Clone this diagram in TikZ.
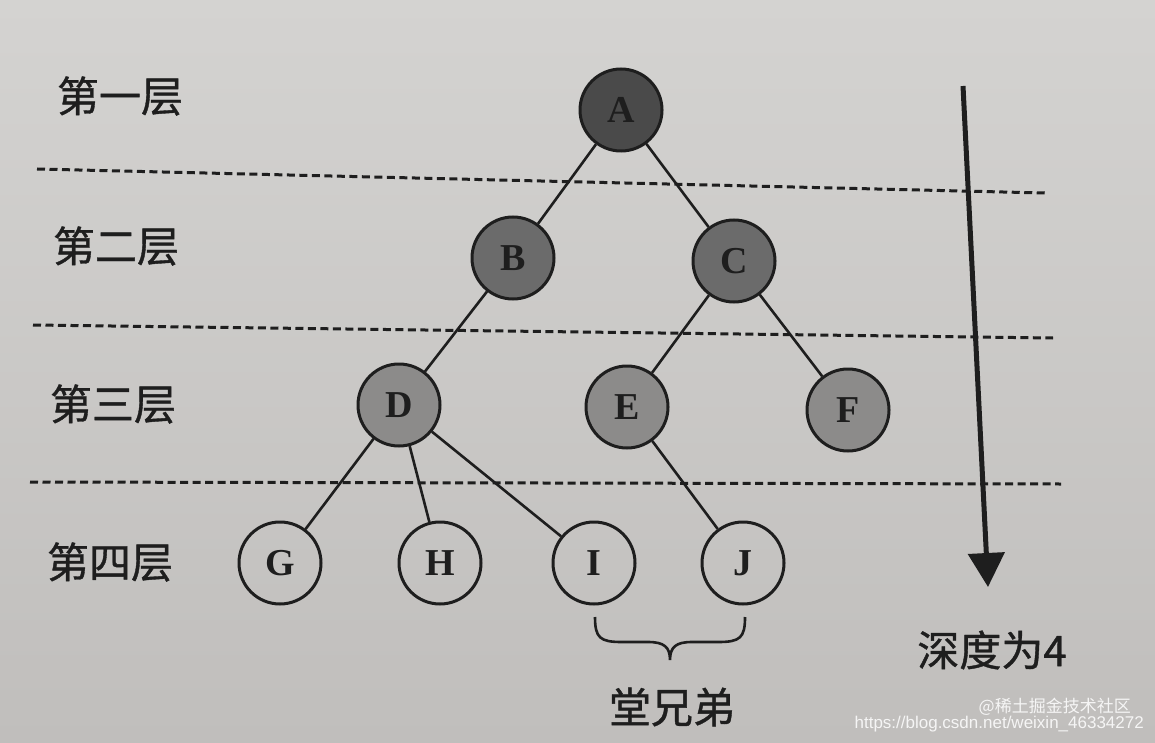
\documentclass[tikz,border=0pt]{standalone}
\usepackage{fontspec}
\setmainfont{Liberation Serif}
\newfontfamily\cjk[FakeBold=0.9]{Noto Sans CJK SC}
\newfontfamily\cjkwm{Noto Sans CJK SC}
\usetikzlibrary{arrows.meta}
\definecolor{ink}{HTML}{1E1E1E}
\definecolor{paperT}{HTML}{D4D3D1}
\definecolor{paperB}{HTML}{C0BEBC}
\definecolor{lvA}{HTML}{4A4A4A}
\definecolor{lvB}{HTML}{6B6B6B}
\definecolor{lvC}{HTML}{8C8B8A}
\tikzset{
  tnode/.style={circle, draw=ink, line width=3pt, minimum size=82pt, inner sep=0pt,
    font=\bfseries\fontsize{38}{38}\selectfont, text=ink},
  lvlA/.style={tnode, fill=lvA},
  lvlB/.style={tnode, fill=lvB},
  lvlC/.style={tnode, fill=lvC},
  leaf/.style={tnode, fill=none},
  edge/.style={draw=ink, line width=2.6pt},
  sep/.style={draw=ink, line width=3pt, dash pattern=on 8pt off 4.5pt},
  lbl/.style={font=\cjk\fontsize{42}{42}\selectfont, text=ink, inner sep=0pt},
  wm/.style={font=\cjkwm\fontsize{17}{17}\selectfont, text=white, text opacity=0.85, inner sep=0pt}
}
\begin{document}
\begin{tikzpicture}[x=1pt,y=-1pt]
\useasboundingbox (0,0) rectangle (1155,743);
\shade[top color=paperT, bottom color=paperB] (0,0) rectangle (1155,743);

% separator lines
\coordinate (s1a) at (37,169);  \coordinate (s1b) at (1045,193);
\coordinate (s2a) at (33,325);  \coordinate (s2b) at (1053,338);
\coordinate (s3a) at (30,482);  \coordinate (s3b) at (1061,484);
\draw[sep] (s1a) -- (s1b);
\draw[sep] (s2a) -- (s2b);
\draw[sep] (s3a) -- (s3b);

% level labels
\node[lbl] (l1) at (120,96) {第一层};
\node[lbl] (l2) at (116,246) {第二层};
\node[lbl] (l3) at (113,404) {第三层};
\node[lbl] (l4) at (110,562) {第四层};

% tree nodes
\node[lvlA] (A) at (621,110) {A};
\node[lvlB] (B) at (513,258) {B};
\node[lvlB] (C) at (734,261) {C};
\node[lvlC] (D) at (399,405) {D};
\node[lvlC] (E) at (627,407) {E};
\node[lvlC] (F) at (848,410) {F};
\node[leaf] (G) at (280,563) {G};
\node[leaf] (H) at (440,563) {H};
\node[leaf] (I) at (594,563) {I};
\node[leaf] (J) at (743,563) {J};

% edges
\draw[edge] (A) -- (B);
\draw[edge] (A) -- (C);
\draw[edge] (B) -- (D);
\draw[edge] (C) -- (E);
\draw[edge] (C) -- (F);
\draw[edge] (D) -- (G);
\draw[edge] (D) -- (H);
\draw[edge] (D) -- (I);
\draw[edge] (E) -- (J);

% depth arrow
\coordinate (dtop) at (963,86);
\coordinate (dbot) at (988,587);
\draw[draw=ink, line width=5pt, -{Triangle[length=34pt,width=36pt]}] (dtop) -- (dbot);
\node[lbl] (depth) at (992,650) {深度为4};

% brace under I and J
\coordinate (bl) at (595,617);
\coordinate (br) at (745,617);
\coordinate (bt) at (670,660);
\draw[draw=ink, line width=2.6pt]
  (bl) .. controls (595,638) and (600,642) .. (622,642) -- (648,642)
  .. controls (664,642) and (670,647) .. (bt)
  .. controls (670,647) and (676,642) .. (692,642) -- (718,642)
  .. controls (740,642) and (745,638) .. (br);
\node[lbl] (cousin) at (672,707) {堂兄弟};

% watermark
\node[wm, anchor=east] (wm1) at (1131,707) {@稀土掘金技术社区};
\node[wm, anchor=east] (wm2) at (1144,724) {\fontspec{Liberation Sans}\fontsize{17}{17}\selectfont https://blog.csdn.net/weixin\_46334272};
\end{tikzpicture}
\end{document}
